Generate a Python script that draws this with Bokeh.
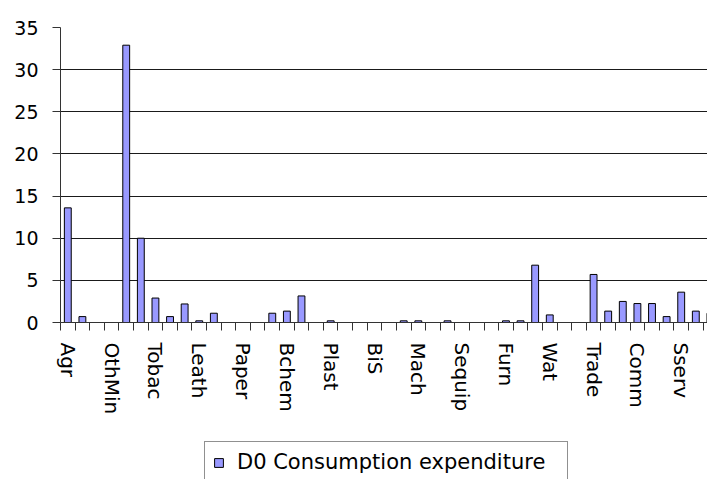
import math

from bokeh.embed import file_html
from bokeh.layouts import column
from bokeh.models import FixedTicker, Legend, LegendItem, Range1d
from bokeh.plotting import figure
from bokeh.resources import INLINE

# Sectors of the economy, in table order
sectors = [
    "Agr", "Coal", "Gold", "OthMin", "Food", "Bev", "Tobac", "Text", "Wear",
    "Leath", "Foot", "Wood", "Paper", "Print", "Petro", "Bchem", "Ochem",
    "Rubber", "Plast", "Glass", "NMetal", "BiS", "NFMet", "MetPr", "Mach",
    "EMach", "Radio", "Sequip", "Vehic", "TrEquip", "Furn", "OthInd", "Elec",
    "Wat", "Build", "Cons", "Trade", "Hotel", "Trans", "Comm", "Fin",
    "Bserv", "Sserv", "Gov", "Oth",
]

# Share of consumption expenditure by sector (%)
consumption = [
    13.6, 0.7, 0.0, 0.0, 32.9, 10.0, 2.9, 0.7, 2.2,
    0.2, 1.1, 0.0, 0.0, 0.0, 1.1, 1.35, 3.15,
    0.0, 0.2, 0.0, 0.0, 0.0, 0.0, 0.2, 0.2,
    0.0, 0.2, 0.0, 0.0, 0.0, 0.2, 0.2, 6.8,
    0.9, 0.0, 0.0, 5.7, 1.35, 2.5, 2.25, 2.25,
    0.7, 3.6, 1.35, 1.1,
]

series_name = "D0 Consumption expenditure"
y_ticks = [0, 5, 10, 15, 20, 25, 30, 35]

FONT = "DejaVu Sans"
BAR_FILL = "#9999FF"
xs = list(range(len(sectors)))

# ---- bar chart -------------------------------------------------------------
p = figure(
    width=707, height=436,
    x_range=Range1d(-0.5, 43.8), y_range=Range1d(0, 35),
    output_backend="svg", toolbar_location=None,
    min_border_left=60, min_border_right=0,
    min_border_top=27, min_border_bottom=114,
)
p.outline_line_color = None
p.background_fill_color = "white"
p.border_fill_color = "white"

p.vbar(x=xs, top=consumption, width=0.47, bottom=0,
       fill_color=BAR_FILL, line_color="black", line_width=1)

# horizontal gridlines only
p.xgrid.visible = False
p.ygrid.ticker = FixedTicker(ticks=y_ticks)
p.ygrid.grid_line_color = "#1a1a1a"
p.ygrid.grid_line_width = 1

# y axis
p.yaxis.ticker = FixedTicker(ticks=y_ticks)
p.yaxis.axis_line_color = "#333333"
p.yaxis.major_tick_line_color = "#333333"
p.yaxis.major_tick_out = 8
p.yaxis.major_tick_in = 0
p.yaxis.minor_tick_line_color = None
p.yaxis.major_label_standoff = 14
p.yaxis.major_label_text_font = FONT
p.yaxis.major_label_text_font_size = "19px"
p.yaxis.major_label_text_color = "black"

# x axis: a label on every third sector, tick marks between sectors
labelled = list(range(0, len(sectors), 3))
p.xaxis.ticker = FixedTicker(
    ticks=labelled,
    minor_ticks=[i - 0.5 for i in range(len(sectors) + 1)],
)
p.xaxis.major_label_overrides = {i: sectors[i] for i in labelled}
p.xaxis.major_label_orientation = -math.pi / 2
p.xaxis.axis_line_color = "#333333"
p.xaxis.major_tick_line_color = None
p.xaxis.major_tick_out = 8
p.xaxis.major_tick_in = 0
p.xaxis.minor_tick_line_color = "#333333"
p.xaxis.minor_tick_out = 8
p.xaxis.minor_tick_in = 0
p.xaxis.major_label_standoff = 12
p.xaxis.major_label_text_font = FONT
p.xaxis.major_label_text_font_size = "20px"
p.xaxis.major_label_text_color = "black"

# ---- legend strip underneath ---------------------------------------------
STRIP_H = 43
lg = figure(
    width=707, height=STRIP_H,
    x_range=Range1d(0, 1), y_range=Range1d(0, 1),
    output_backend="svg", toolbar_location=None,
    min_border=0, min_border_left=0, min_border_right=0,
    min_border_top=0, min_border_bottom=0,
)
lg.axis.visible = False
lg.grid.visible = False
lg.outline_line_color = None
lg.background_fill_color = "white"
lg.border_fill_color = "white"

# a bar kept outside the strip's range, used only for the legend swatch
swatch = lg.vbar(x=[5], top=[6], bottom=[5], width=0.5,
                 fill_color=BAR_FILL, line_color="black", line_width=1)

PAD = 8
leg = Legend(items=[LegendItem(label=series_name, renderers=[swatch])])
leg.padding = PAD
leg.margin = 0
leg.spacing = 0
leg.glyph_width = 11
leg.glyph_height = 11
leg.label_standoff = 13
leg.label_height = 20
leg.label_width = 322
leg.label_text_font = FONT
leg.label_text_font_size = "21px"
leg.label_text_color = "black"
leg.border_line_color = "#222222"
leg.border_line_width = 1
leg.background_fill_color = "white"
leg.background_fill_alpha = 1
legend_h = 2 * PAD + 26
leg.location = (144, STRIP_H - 5 - legend_h)
lg.add_layout(leg, "center")

layout = column(p, lg, spacing=0)

open("out.html", "w").write(file_html(layout, INLINE))
